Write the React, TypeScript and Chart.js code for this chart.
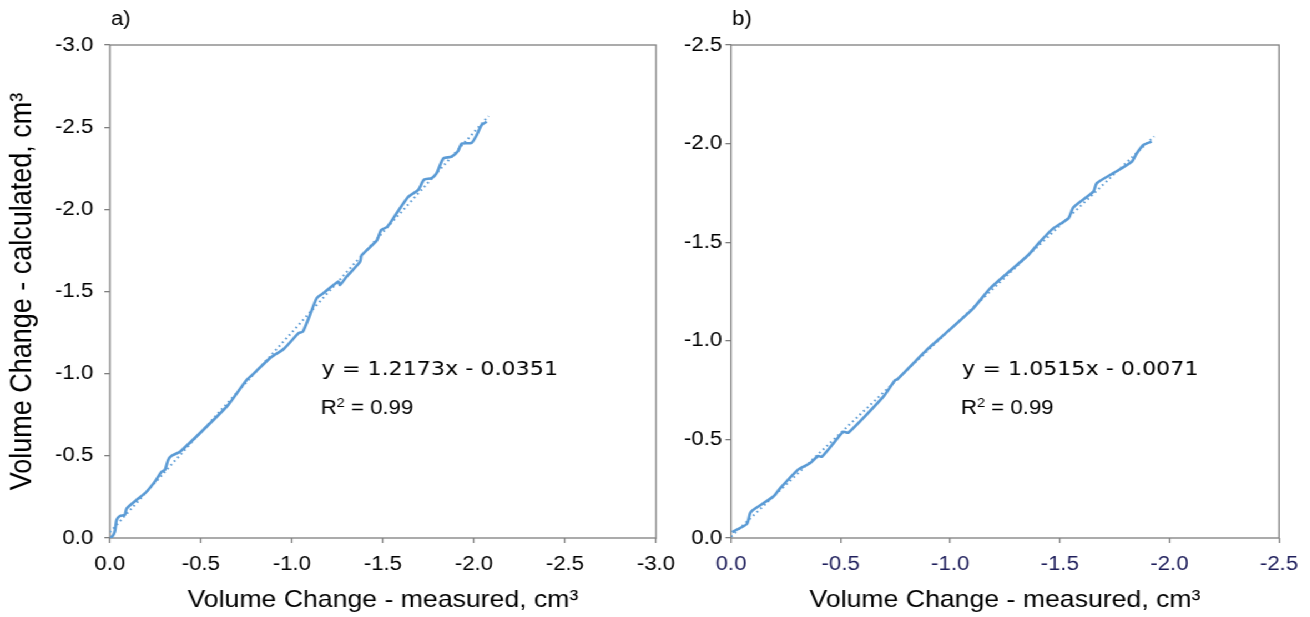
import { useEffect, useRef } from 'react';
import { Chart, registerables } from 'chart.js';

Chart.register(...registerables);

// ---------- data ----------
const measuredA = [0, -0.012, -0.027, -0.037, -0.055, -0.082, -0.092, -0.156, -0.2, -0.247, -0.284, -0.302, -0.32, -0.339, -0.385, -0.531, -0.65, -0.75, -0.79, -0.885, -0.955, -1.035, -1.06, -1.093, -1.136, -1.172, -1.254, -1.264, -1.3, -1.374, -1.383, -1.466, -1.49, -1.524, -1.575, -1.64, -1.694, -1.725, -1.768, -1.795, -1.832, -1.877, -1.914, -1.932, -1.987, -2.015, -2.042, -2.07];
const calculatedA = [0, -0.008, -0.038, -0.11, -0.134, -0.14, -0.18, -0.24, -0.28, -0.343, -0.403, -0.414, -0.475, -0.5, -0.525, -0.677, -0.81, -0.96, -1.0, -1.1, -1.15, -1.245, -1.256, -1.34, -1.459, -1.489, -1.56, -1.54, -1.59, -1.68, -1.72, -1.81, -1.874, -1.894, -1.976, -2.077, -2.118, -2.18, -2.19, -2.22, -2.31, -2.32, -2.357, -2.4, -2.405, -2.452, -2.513, -2.533];
const trendXA = [0, -2.08];
const trendYA = [-0.0351, -2.567];

const measuredB = [-0.005, -0.072, -0.087, -0.1, -0.193, -0.224, -0.307, -0.36, -0.398, -0.414, -0.467, -0.512, -0.535, -0.695, -0.748, -0.76, -0.895, -0.953, -1.105, -1.182, -1.356, -1.41, -1.47, -1.539, -1.562, -1.653, -1.668, -1.744, -1.828, -1.851, -1.881, -1.919];
const calculatedB = [-0.03, -0.071, -0.125, -0.142, -0.21, -0.252, -0.348, -0.379, -0.416, -0.412, -0.48, -0.539, -0.534, -0.717, -0.8, -0.806, -0.956, -1.013, -1.165, -1.266, -1.435, -1.503, -1.57, -1.621, -1.677, -1.756, -1.799, -1.85, -1.908, -1.951, -1.993, -2.01];
const trendXB = [0, -1.93];
const trendYB = [-0.0071, -2.0365];

const ticksA = [0, -0.5, -1.0, -1.5, -2.0, -2.5, -3.0];
const tickLabelsA = ['0.0', '-0.5', '-1.0', '-1.5', '-2.0', '-2.5', '-3.0'];
const ticksB = [0, -0.5, -1.0, -1.5, -2.0, -2.5];
const tickLabelsB = ['0.0', '-0.5', '-1.0', '-1.5', '-2.0', '-2.5'];

const xTitle = 'Volume Change - measured, cm³';
const yTitle = 'Volume Change - calculated, cm³';
const equationA = 'y = 1.2173x - 0.0351';
const equationB = 'y = 1.0515x - 0.0071';
const r2A = '0.99';
const r2B = '0.99';

// ---------- styling ----------
const STRETCH = 1.11;
const BLUE = '#5B9BD5';
const AXIS = '#7f7f7f';
const SANS = '"Liberation Sans", Arial, sans-serif';
const VERDANA = '"DejaVu Sans", Verdana, sans-serif';

const toPts = (xs: number[], ys: number[]) => xs.map((x, i) => ({ x, y: ys[i] }));

const panelPlugin = {
  id: 'panelDecor',
  beforeDatasetsDraw(chart: any) {
    const { ctx, chartArea } = chart;
    const { left, top, right, bottom } = chartArea;
    ctx.save();
    ctx.strokeStyle = AXIS;
    ctx.lineWidth = 1.3;
    ctx.strokeRect(left, top, right - left, bottom - top);
    ctx.restore();
  },
  afterDraw(chart: any, _a: any, opts: any) {
    const { ctx, chartArea, scales } = chart;
    ctx.save();
    ctx.fillStyle = '#000';
    ctx.textBaseline = 'alphabetic';
    ctx.textAlign = 'left';
    // panel label
    ctx.font = `20px ${SANS}`;
    ctx.fillText(opts.label, chartArea.left + 1, 25);
    // equation
    const ex = scales.x.getPixelForValue(opts.eqX);
    const ey = scales.y.getPixelForValue(opts.eqY);
    ctx.font = `20px ${VERDANA}`;
    ctx.fillText(opts.equation, ex, ey);
    // R^2
    const rx = scales.x.getPixelForValue(opts.rX);
    const ry = scales.y.getPixelForValue(opts.rY);
    ctx.font = `20px ${SANS}`;
    ctx.fillText('R', rx, ry);
    let w = ctx.measureText('R').width;
    ctx.font = `13px ${SANS}`;
    ctx.fillText('2', rx + w, ry - 7);
    w += ctx.measureText('2').width;
    ctx.font = `20px ${SANS}`;
    ctx.fillText(' = ' + opts.r2, rx + w, ry);
    ctx.restore();
  },
};

function makeConfig(p: any): any {
  return {
    type: 'scatter',
    data: {
      datasets: [
        {
          data: p.trend,
          showLine: true,
          borderColor: BLUE,
          borderWidth: 2,
          borderDash: [1.6, 3.2],
          pointRadius: 0,
          order: 0,
        },
        {
          data: p.curve,
          showLine: true,
          borderColor: BLUE,
          borderWidth: 2.6,
          pointRadius: 0,
          tension: 0.2,
          order: 1,
        },
      ],
    },
    options: {
      animation: false,
      responsive: false,
      devicePixelRatio: 1,
      layout: { padding: { top: 45, right: p.padRight, left: 0, bottom: 0 } },
      plugins: {
        legend: { display: false },
        tooltip: { enabled: false },
        panelDecor: {
          label: p.label,
          equation: p.equation,
          eqX: p.eqX,
          eqY: p.eqY,
          rX: p.rX,
          rY: p.rY,
          r2: p.r2,
        },
      },
      scales: {
        x: {
          type: 'linear',
          reverse: true,
          min: p.min,
          max: 0,
          afterBuildTicks: (s: any) => {
            s.ticks = p.ticks.map((v: number) => ({ value: v }));
          },
          afterFit: (s: any) => {
            s.height = 79;
          },
          grid: { drawOnChartArea: false, drawTicks: true, tickLength: 5, color: AXIS, lineWidth: 1.3 },
          border: { display: false },
          ticks: {
            autoSkip: false,
            maxRotation: 0,
            padding: 9,
            color: p.xTickColor,
            font: { family: SANS, size: 20 },
            callback: (_v: any, i: number) => p.tickLabels[i],
          },
          title: {
            display: true,
            text: xTitle,
            color: '#000',
            font: { family: SANS, size: 24 },
            padding: { top: 0, bottom: 2 },
          },
        },
        y: {
          type: 'linear',
          reverse: true,
          min: p.min,
          max: 0,
          afterBuildTicks: (s: any) => {
            s.ticks = p.ticks.map((v: number) => ({ value: v }));
          },
          afterFit: (s: any) => {
            s.width = p.yWidth;
          },
          grid: { drawOnChartArea: false, drawTicks: true, tickLength: 5, color: AXIS, lineWidth: 1.3 },
          border: { display: false },
          ticks: {
            autoSkip: false,
            padding: p.yPad,
            color: '#000',
            font: { family: SANS, size: 20 },
            callback: (_v: any, i: number) => p.tickLabels[i],
          },
          title: {
            display: p.showYTitle,
            text: yTitle,
            color: '#000',
            font: { family: SANS, size: 27 },
            padding: { top: 4, bottom: 0 },
          },
        },
      },
    },
    plugins: [panelPlugin],
  };
}

function Panel(props: { cfg: any; left: number; width: number }) {
  const ref = useRef<HTMLCanvasElement | null>(null);
  useEffect(() => {
    if (!ref.current) return;
    const chart = new Chart(ref.current, makeConfig(props.cfg));
    return () => chart.destroy();
  }, []);
  return (
    <canvas
      ref={ref}
      width={props.width}
      height={617}
      style={{ position: 'absolute', left: props.left, top: 0, width: props.width, height: 617 }}
    />
  );
}

const cfgA = {
  label: 'a)',
  curve: toPts(measuredA, calculatedA),
  trend: toPts(trendXA, trendYA),
  ticks: ticksA,
  tickLabels: tickLabelsA,
  min: -3,
  padRight: 29,
  yWidth: 99,
  yPad: 10,
  xTickColor: '#000',
  showYTitle: true,
  equation: equationA,
  eqX: -1.163,
  eqY: -0.99,
  rX: -1.158,
  rY: -0.755,
  r2: r2A,
};

const cfgB = {
  label: 'b)',
  curve: toPts(measuredB, calculatedB),
  trend: toPts(trendXB, trendYB),
  ticks: ticksB,
  tickLabels: tickLabelsB,
  min: -2.5,
  padRight: 27.7,
  yWidth: 58.6,
  yPad: 3,
  xTickColor: '#1F1F5C',
  showYTitle: false,
  equation: equationB,
  eqX: -1.054,
  eqY: -0.827,
  rX: -1.049,
  rY: -0.629,
  r2: r2B,
};

export default function App() {
  return (
    <div
      style={{
        position: 'fixed',
        left: 0,
        top: 0,
        width: 1310 / STRETCH,
        height: 617,
        background: '#fff',
        transform: `scaleX(${STRETCH})`,
        transformOrigin: '0 0',
      }}
    >
      <Panel cfg={cfgA} left={0} width={620} />
      <Panel cfg={cfgB} left={600} width={580} />
    </div>
  );
}
